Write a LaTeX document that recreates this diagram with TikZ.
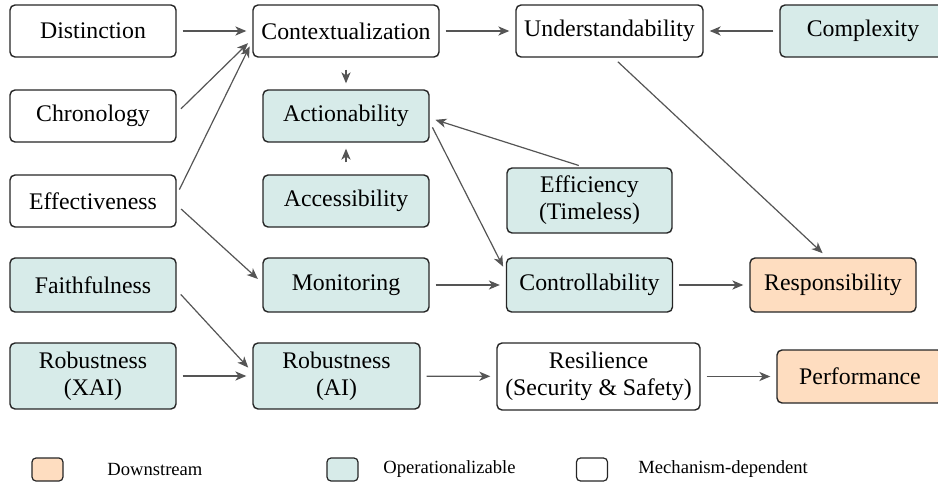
\documentclass[tikz,border=0pt]{standalone}
\usepackage{fontspec}
\setmainfont{Liberation Serif}
\usetikzlibrary{arrows.meta,calc}
\definecolor{opfill}{HTML}{D7EBE9}
\definecolor{dsfill}{HTML}{FEDDC0}
\definecolor{arrowgray}{HTML}{555555}
\tikzset{
  box/.style={draw=black!85, line width=0.7pt, rounded corners=2.5pt, minimum width=83pt, minimum height=26pt, inner sep=0pt, align=center, font=\fontsize{11.9}{13.4}\selectfont},
  mech/.style={box, fill=white},
  oper/.style={box, fill=opfill},
  down/.style={box, fill=dsfill},
  conn/.style={draw=arrowgray, line width=0.6pt, -{Stealth[length=5.5pt,width=4.6pt,inset=1.6pt]}, shorten >=3pt, shorten <=3pt},
  legbox/.style={draw=black!85, line width=0.6pt, rounded corners=2pt, minimum width=15.5pt, minimum height=11.5pt, inner sep=0pt},
  legtext/.style={anchor=west, inner sep=0pt, font=\fontsize{9.3}{11}\selectfont}
}
\begin{document}
\begin{tikzpicture}[x=0.5pt,y=-0.5pt]
\useasboundingbox (0,0) rectangle (938,487);
\clip (0,0) rectangle (938,487);
% row 1
\node[mech] (dist) at (93,31) {Distinction};
\node[mech, minimum width=93pt] (ctx) at (346,31) {Contextualization};
\node[mech, minimum width=93.5pt] (und) at (609.5,31) {Understandability};
\node[oper] (cplx) at (863,31) {Complexity};
% row 2
\node[mech] (chron) at (93,116) {Chronology};
\node[oper] (act) at (346,116) {Actionability};
% row 3
\node[mech] (effe) at (93,201) {Effectiveness};
\node[oper] (acc) at (346,201) {Accessibility};
\node[oper, minimum width=82.5pt, minimum height=32.5pt] (effi) at (589.5,200.5) {Efficiency\\(Timeless)};
% row 4
\node[oper, minimum height=27pt] (faith) at (93,285) {Faithfulness};
\node[oper, minimum height=27pt] (mon) at (346,285) {Monitoring};
\node[oper, minimum height=27pt] (ctrl) at (589.5,285) {Controllability};
\node[down, minimum height=27pt] (resp) at (833,285) {Responsibility};
% row 5
\node[oper, minimum height=33pt] (rxai) at (93,376) {Robustness\\(XAI)};
\node[oper, minimum width=83.5pt, minimum height=33pt] (rai) at (336.5,376) {Robustness\\(AI)};
\node[mech, minimum width=101.5pt, minimum height=33.5pt] (res) at (598.5,376.5) {Resilience\\(Security \& Safety)};
\node[down, minimum height=26.5pt] (perf) at (860,376.5) {Performance};
% connectors
\draw[conn] (dist) -- (ctx);
\draw[conn] ($(chron.east)+(0,-3)$) -- ($(ctx.west)+(0,8)$);
\draw[conn] ($(effe.east)+(0,-6)$) -- ($(ctx.west)+(0,10)$);
\draw[conn] ($(effe.east)+(0,4)$) -- ($(mon.west)+(0,-2)$);
\draw[conn, shorten <=6pt] (ctx) -- (act);
\draw[conn, shorten <=6pt] (acc) -- (act);
\draw[conn] ($(effi.north)+(-5,0)$) -- ($(act.east)+(0,2)$);
\draw[conn] ($(act.east)+(0,6)$) -- ($(ctrl.west)+(0,-13)$);
\draw[conn] (mon) -- (ctrl);
\draw[conn] (ctx) -- (und);
\draw[conn] (cplx) -- (und);
\draw[conn] ($(und.south)+(4,0)$) -- ($(resp.north)+(-6,0)$);
\draw[conn] (ctrl) -- (resp);
\draw[conn] ($(faith.east)+(0,5)$) -- ($(rai.west)+(0,-4)$);
\draw[conn] (rxai) -- (rai);
\draw[conn] (rai) -- (res);
\draw[conn] (res) -- (perf);
% legend
\node[legbox, fill=dsfill] (lg1) at (47.5,469.5) {};
\node[legtext] (lt1) at (107,469) {Downstream};
\node[legbox, fill=opfill] (lg2) at (342.5,469.5) {};
\node[legtext] (lt2) at (383,469) {Operationalizable};
\node[legbox, fill=white] (lg3) at (592,469.5) {};
\node[legtext] (lt3) at (638,469) {Mechanism-dependent};
\end{tikzpicture}
\end{document}
